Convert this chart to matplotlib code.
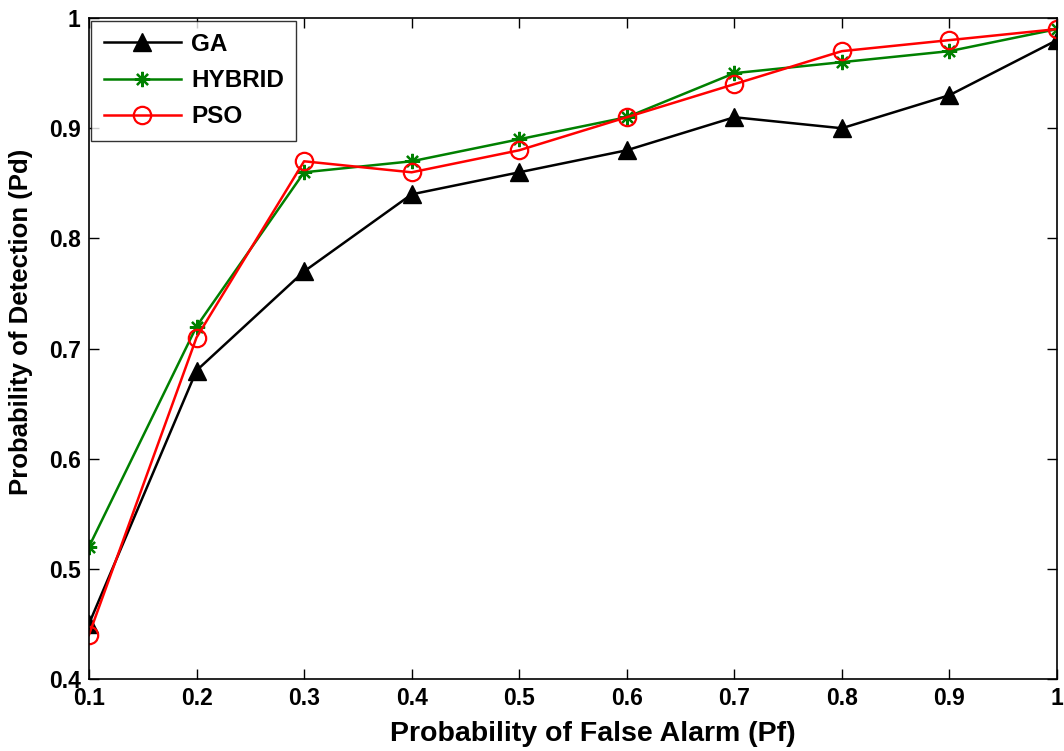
import matplotlib.pyplot as plt
import numpy as np
from matplotlib.ticker import FuncFormatter

pf = [0.1, 0.2, 0.3, 0.4, 0.5, 0.6, 0.7, 0.8, 0.9, 1.0]
pd_ga = [0.45, 0.68, 0.77, 0.84, 0.86, 0.88, 0.91, 0.90, 0.93, 0.98]
pd_hybrid = [0.52, 0.72, 0.86, 0.87, 0.89, 0.91, 0.95, 0.96, 0.97, 0.99]
pd_pso = [0.44, 0.71, 0.87, 0.86, 0.88, 0.91, 0.94, 0.97, 0.98, 0.99]

plt.rcParams['font.family'] = ['Liberation Sans', 'DejaVu Sans']
plt.rcParams['font.weight'] = 'bold'

fig = plt.figure(figsize=(10.64, 7.51), dpi=100)
ax = fig.add_axes([0.0836, 0.0959, 0.9098, 0.880])

ax.plot(pf, pd_ga, color='black', lw=1.8, marker='^', ms=13, label='GA')
ax.plot(pf, pd_hybrid, color='green', lw=1.8, marker=(8, 2, 0), ms=11, mew=1.6,
        label='HYBRID')
ax.plot(pf, pd_pso, color='red', lw=1.8, marker='o', ms=12.5, mfc='none', mew=1.6,
        label='PSO')

ax.set_xlim(0.1, 1.0)
ax.set_ylim(0.4, 1.0)
ax.set_xticks(np.arange(1, 11) / 10)
ax.set_yticks(np.arange(4, 11) / 10)
fmt = FuncFormatter(lambda v, p: '%g' % round(v, 2))
ax.xaxis.set_major_formatter(fmt)
ax.yaxis.set_major_formatter(fmt)
ax.tick_params(direction='in', top=True, right=True, length=7, width=1,
               labelsize=16.5, pad=6)
for s in ax.spines.values():
    s.set_linewidth(1.2)

ax.set_xlabel('Probability of False Alarm (Pf)', fontsize=20.5, fontweight='bold')
ax.set_ylabel('Probability of Detection (Pd)', fontsize=18.5, fontweight='bold')
ax.xaxis.set_label_coords(0.521, -0.064)
ax.yaxis.set_label_coords(-0.058, 0.54)

leg = ax.legend(loc='upper left', fontsize=17.5, handlelength=3.2,
                handletextpad=0.4, frameon=True, fancybox=False,
                edgecolor='black', borderaxespad=0.1, labelspacing=0.55,
                borderpad=0.5)
leg.get_frame().set_linewidth(1.0)

fig.savefig('out.png', dpi=100)
